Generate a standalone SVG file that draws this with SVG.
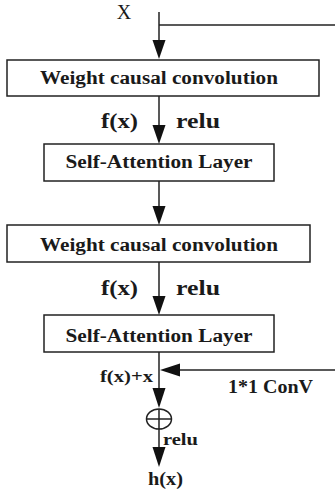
<svg xmlns="http://www.w3.org/2000/svg" width="335" height="491" viewBox="0 0 335 491">
<defs>
<style>
.box{fill:#fff;stroke:#222;stroke-width:1.5}
.ln{fill:none;stroke:#222;stroke-width:1.5}
.t{font-family:"Liberation Serif",serif;font-weight:bold;fill:#1a1a1a}
</style>
</defs>
<rect width="335" height="491" fill="#fff"/>
<g id="connectors">
<path class="ln" d="M159,12 V40"/>
<polygon points="152.5,40 165.5,40 159,59" fill="#111"/>
<path class="ln" d="M159,25 H335"/>
<path class="ln" d="M159,96 V125"/>
<polygon points="152.5,125 165.5,125 159,144" fill="#111"/>
<path class="ln" d="M159,181 V206"/>
<polygon points="152.5,206 165.5,206 159,225" fill="#111"/>
<path class="ln" d="M159,262 V296"/>
<polygon points="152.5,296 165.5,296 159,315" fill="#111"/>
<path class="ln" d="M159,352 V388"/>
<path class="ln" d="M180,370 H335"/>
<polygon points="180,363.5 180,376.5 160,370" fill="#111"/>
<polygon points="152.5,388 165.5,388 159,408" fill="#111"/>
<path class="ln" d="M159,429 V447"/>
<polygon points="152.5,447 165.5,447 159,467" fill="#111"/>
</g>
<g id="input"><text x="124" y="19" font-family="Liberation Serif,serif" font-size="20" text-anchor="middle" fill="#1a1a1a">X</text></g>
<g id="conv1"><rect class="box" x="7" y="60" width="312" height="36"/><text class="t" x="159" y="84" font-size="18" text-anchor="middle" textLength="238" lengthAdjust="spacingAndGlyphs">Weight causal convolution</text></g>
<g id="lbl1"><text class="t" x="101" y="128" font-size="20" textLength="37" lengthAdjust="spacingAndGlyphs">f(x)</text><text class="t" x="176" y="128" font-size="20" textLength="44" lengthAdjust="spacingAndGlyphs">relu</text></g>
<g id="att1"><rect class="box" x="44" y="144" width="230" height="37"/><text class="t" x="159" y="168" font-size="18" text-anchor="middle" textLength="187" lengthAdjust="spacingAndGlyphs">Self-Attention Layer</text></g>
<g id="conv2"><rect class="box" x="7" y="225" width="303" height="37"/><text class="t" x="159" y="251" font-size="18" text-anchor="middle" textLength="238" lengthAdjust="spacingAndGlyphs">Weight causal convolution</text></g>
<g id="lbl2"><text class="t" x="101" y="295" font-size="20" textLength="37" lengthAdjust="spacingAndGlyphs">f(x)</text><text class="t" x="176" y="295" font-size="20" textLength="44" lengthAdjust="spacingAndGlyphs">relu</text></g>
<g id="att2"><rect class="box" x="44" y="315" width="230" height="37"/><text class="t" x="159" y="342" font-size="18" text-anchor="middle" textLength="187" lengthAdjust="spacingAndGlyphs">Self-Attention Layer</text></g>
<g id="res"><text class="t" x="100" y="382" font-size="16" textLength="53" lengthAdjust="spacingAndGlyphs">f(x)+x</text><text class="t" x="228" y="393" font-size="18" textLength="85" lengthAdjust="spacingAndGlyphs">1*1 ConV</text></g>
<g id="add"><ellipse cx="159" cy="419" rx="12.5" ry="10" fill="#fff" stroke="#222" stroke-width="1.5"/><path class="ln" d="M146.5,419 H171.5 M159,409 V429"/></g>
<g id="out"><text class="t" x="163" y="445" font-size="17" textLength="35" lengthAdjust="spacingAndGlyphs">relu</text><text class="t" x="148" y="485" font-size="18" textLength="35" lengthAdjust="spacingAndGlyphs">h(x)</text></g>
</svg>
